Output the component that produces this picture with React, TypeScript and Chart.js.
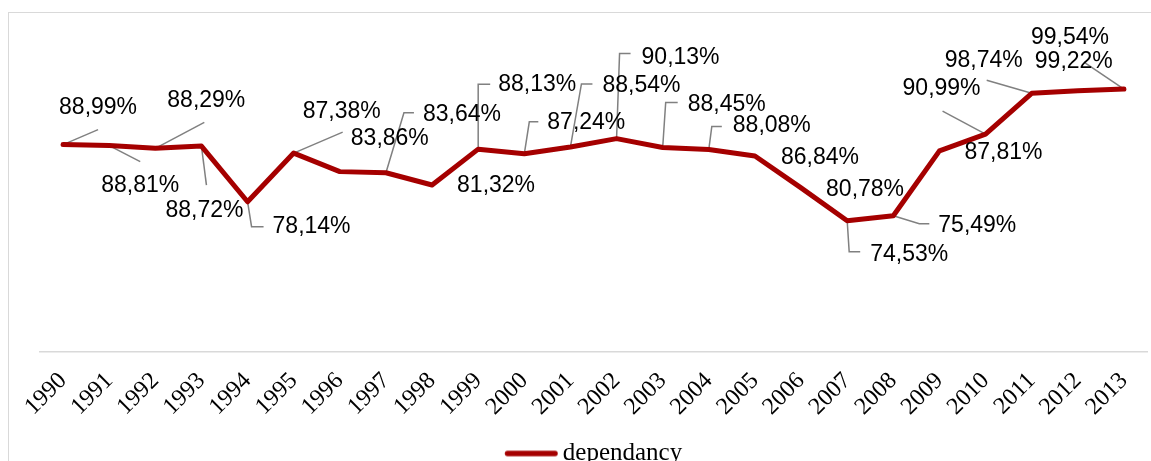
import React, { useEffect, useRef } from "react";
import { Chart, registerables } from "chart.js";

Chart.register(...registerables);

const years = [
  "1990", "1991", "1992", "1993", "1994", "1995", "1996", "1997", "1998", "1999", "2000", "2001",
  "2002", "2003", "2004", "2005", "2006", "2007", "2008", "2009", "2010", "2011", "2012", "2013",
];

const dependancy = [
  88.99, 88.81, 88.29, 88.72, 78.14, 87.38, 83.86, 83.64, 81.32, 88.13, 87.24, 88.54,
  90.13, 88.45, 88.08, 86.84, 80.78, 74.53, 75.49, 87.81, 90.99, 98.74, 99.22, 99.54,
];

const seriesName = "dependancy";

// label placement (text left edge / vertical middle relative to point), styling only
const labelOffsets: [number, number][] = [
  [-4, -37], [-8, 40], [12, -48], [-36, 65], [25, 25], [9, -41], [11, -33], [37, -58],
  [25, 1], [20, -64], [23, -31], [32, -61], [25, -81], [25, -43], [24, -24], [26, 2],
  [25, 2], [23, 34], [45, 10], [25, 2], [-83, -45], [-87, -33], [-43, -29], [-93, -51],
];

// leader line polylines relative to point, styling only
const leaders: [number, number][][] = [
  [[0, 0], [35, -15]],
  [[0, 0], [31, 16]],
  [[0, 0], [49, -26]],
  [[0, 0], [5, 39]],
  [[0, 0], [4, 25], [16, 25]],
  [[0, 0], [49, -21]],
  [],
  [[0, 0], [18, -60], [28, -60]],
  [],
  [[0, 0], [0, -65], [12, -65]],
  [[0, 0], [5, -32], [14, -32]],
  [[0, 0], [11, -63], [22, -63]],
  [[0, 0], [3, -85], [14, -85]],
  [[0, 0], [3, -45], [15, -45]],
  [[0, 0], [3, -23], [13, -23]],
  [],
  [],
  [[0, 0], [2, 31], [13, 31]],
  [[0, 0], [26, 8], [36, 8]],
  [],
  [[0, 0], [-43, -23]],
  [[0, 0], [-45, -13]],
  [],
  [[0, 0], [-40, -27]],
];

const fmt = (v: number) => v.toFixed(2).replace(".", ",") + "%";

function makeLegendLine(): HTMLCanvasElement {
  const c = document.createElement("canvas");
  c.width = 61;
  c.height = 10;
  const g = c.getContext("2d") as CanvasRenderingContext2D;
  g.strokeStyle = "#a50000";
  g.lineWidth = 5.5;
  g.lineCap = "round";
  g.beginPath();
  g.moveTo(10.5, 5);
  g.lineTo(58, 5);
  g.stroke();
  return c;
}

const borderPlugin = {
  id: "frameBorder",
  beforeDraw(chart: any) {
    const ctx = chart.ctx;
    ctx.save();
    ctx.fillStyle = "#ffffff";
    ctx.fillRect(0, 0, chart.width, chart.height);
    ctx.strokeStyle = "#d9d9d9";
    ctx.lineWidth = 1;
    ctx.strokeRect(8.5, 12.5, 1200, 700);
    ctx.restore();
  },
};

const leaderPlugin = {
  id: "leaders",
  beforeDatasetsDraw(chart: any) {
    const ctx = chart.ctx;
    const meta = chart.getDatasetMeta(0);
    ctx.save();
    ctx.strokeStyle = "#808080";
    ctx.lineWidth = 1.5;
    meta.data.forEach((pt: any, i: number) => {
      const l = leaders[i];
      if (!l || l.length < 2) return;
      ctx.beginPath();
      ctx.moveTo(pt.x + l[0][0], pt.y + l[0][1]);
      for (let k = 1; k < l.length; k++) ctx.lineTo(pt.x + l[k][0], pt.y + l[k][1]);
      ctx.stroke();
    });
    ctx.restore();
  },
  afterDatasetsDraw(chart: any) {
    const ctx = chart.ctx;
    const meta = chart.getDatasetMeta(0);
    ctx.save();
    ctx.fillStyle = "#000000";
    ctx.font = '23px "Liberation Sans", Arial, sans-serif';
    ctx.textAlign = "left";
    ctx.textBaseline = "middle";
    meta.data.forEach((pt: any, i: number) => {
      const [dx, dy] = labelOffsets[i];
      ctx.fillText(fmt(dependancy[i]), pt.x + dx, pt.y + dy);
    });
    ctx.restore();
  },
};

export default function App() {
  const ref = useRef<HTMLCanvasElement>(null);

  useEffect(() => {
    const legendLine = makeLegendLine();
    const chart = new Chart(ref.current as HTMLCanvasElement, {
      type: "line",
      data: {
        labels: years,
        datasets: [
          {
            label: seriesName,
            data: dependancy,
            borderColor: "#a50000",
            backgroundColor: "#a50000",
            borderWidth: 5,
            borderCapStyle: "round",
            borderJoinStyle: "round",
            pointRadius: 0,
            pointHoverRadius: 0,
            tension: 0,
            fill: false,
            clip: false,
          } as any,
        ],
      },
      options: {
        animation: false,
        responsive: true,
        maintainAspectRatio: false,
        events: [],
        layout: { padding: { top: 34, left: 40, right: 4, bottom: 0 } },
        scales: {
          x: {
            offset: true,
            grid: { display: false, drawTicks: false },
            border: { display: true, color: "#d9d9d9", width: 1.5 },
            ticks: {
              autoSkip: false,
              minRotation: 45,
              maxRotation: 45,
              padding: 15,
              color: "#000000",
              font: { family: '"Liberation Serif", serif', size: 24 },
            },
            afterFit: (s: any) => {
              s.height = 79;
              s.paddingLeft = 0;
              s.paddingRight = 0;
            },
          } as any,
          y: { display: false, min: 49.6, max: 110 },
        },
        plugins: {
          tooltip: { enabled: false },
          legend: {
            position: "bottom",
            fullSize: false,
            labels: {
              usePointStyle: true,
              pointStyle: legendLine,
              pointStyleWidth: 45.5,
              color: "#000000",
              padding: 10,
              font: { family: '"Liberation Serif", serif', size: 25 },
            },
          } as any,
        },
      },
      plugins: [borderPlugin, leaderPlugin],
    });
    return () => chart.destroy();
  }, []);

  return (
    <div
      style={{
        position: "fixed",
        left: 0,
        top: 0,
        width: 1151,
        height: 461,
        overflow: "hidden",
        background: "#ffffff",
      }}
    >
      <div style={{ position: "absolute", left: 0, top: 0, width: 1151, height: 476 }}>
        <canvas ref={ref} />
      </div>
    </div>
  );
}
